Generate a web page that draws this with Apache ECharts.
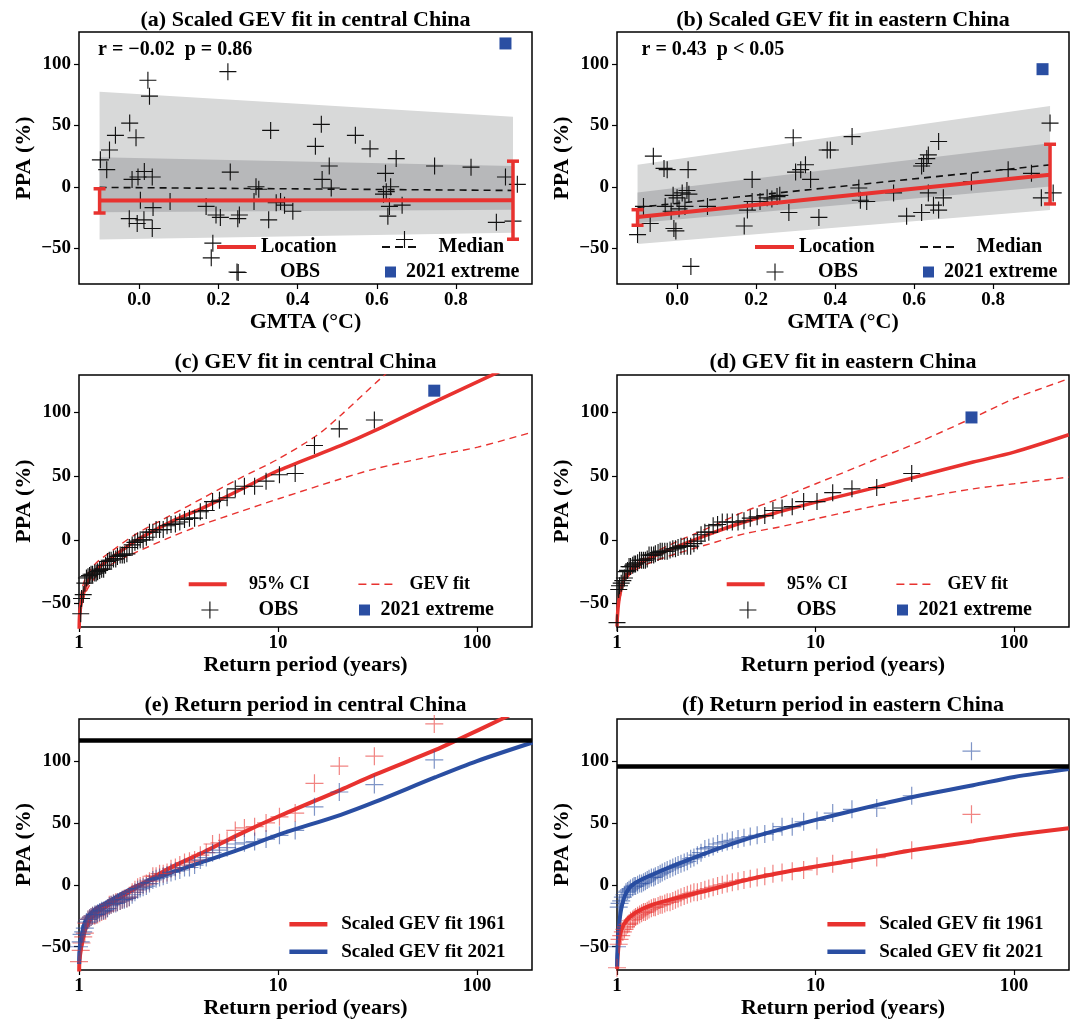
<!DOCTYPE html>
<html><head><meta charset="utf-8">
<script src="https://cdn.jsdelivr.net/npm/echarts@6/dist/echarts.min.js"></script>
<style>html,body{margin:0;padding:0;background:#fff}#chart{width:1080px;height:1023px}</style>
</head><body><div id="chart"></div>
<script>
// ================= DATA =================
// (a) central China: GMTA (°C) and PPA (%) of observed years
const GMTA_C = [-0.098,-0.082,-0.075,-0.06,-0.024,-0.008,0.022,0.026,-0.018,-0.003,0.013,0.033,0.003,0.035,-0.025,-0.005,0.012,0.033,0.078,0.224,0.23,0.169,0.194,0.205,0.186,0.182,0.25,0.253,0.249,0.295,0.302,0.29,0.327,0.332,0.346,0.367,0.388,0.46,0.445,0.48,0.462,0.485,0.546,0.583,0.622,0.649,0.624,0.635,0.617,0.632,0.628,0.664,0.67,0.746,0.838,0.925,0.902,0.944,0.955,0.357];
const PPA_C  = [22,14,30,42,52,40,87,74,6,8,12.5,8,-11,-17,-26,-30,-27,-34,-12,94,12,-16,-23,-25,-46,-58,-70,-23,-26,0,-2,-12,-27,46,-13,-15,-20,51,33,17,6,-1,42,31,11,23,-4,0,-6,-16,-24,-15,-43,17,16,8,-29,-28,2,-12];
// (b) eastern China
const GMTA_E = [-0.1,-0.085,-0.068,-0.06,-0.033,-0.025,0.028,-0.008,-0.003,-0.03,-0.01,0.0,0.005,0.013,0.02,0.025,0.03,0.035,0.077,0.19,0.17,0.178,0.19,0.21,0.228,0.24,0.26,0.253,0.283,0.294,0.313,0.325,0.338,0.359,0.38,0.388,0.443,0.46,0.464,0.48,0.548,0.581,0.619,0.624,0.632,0.619,0.636,0.662,0.636,0.649,0.662,0.674,0.745,0.838,0.897,0.922,0.944,0.952,0.30,-0.015];
const PPA_E  = [-39,-16,-30,25,15,14,14,-34,-36,-16,-7,-9,-18,-5,-16,-3,-6,-65,-16,6,-32,-19,-12,-12,-9,-10,-7,-8,-21,40,14,18,6,-25,30,30,41,-1,-11,-12,-5,-24,-21,19,23,17,26,37,-5,-15,-19,-9,4,14,11,-9,52,-5,12,-20];
const GMTA_2021 = 0.925;
const EXTREME_2021_C = 117;
const EXTREME_2021_E = 96;

// scaled GEV fits vs GMTA (endpoints of the fitted range)
const TREND_X = [-0.1, 0.944];
const C_OUTER_UP = [77.6, 57.2], C_OUTER_LO = [-43, -37.6];
const C_INNER_UP = [24.1, 17],   C_INNER_LO = [-20.8, -18.7];
const C_MEDIAN = [-0.5, -3], C_LOCATION = [-11.2, -11];
const C_ERR_LO = [-21.4, -42.8], C_ERR_HI = [-1.6, 20.9];
const E_OUTER_UP = [17.9, 65.9], E_OUTER_LO = [-46.6, -19];
const E_INNER_UP = [-4.6, 35.5], E_INNER_LO = [-29.5, 0.3];
const E_MEDIAN = [-16.8, 17.9], E_LOCATION = [-24.6, 9.8];
const E_ERR_LO = [-31.4, -14], E_ERR_HI = [-18.7, 34.7];

// return periods (years) for ranks 1..61
const RETURN_PERIOD = [61,30.5,20.33,15.25,12.2,10.17,8.71,7.63,6.78,6.1,5.55,5.08,4.69,4.36,4.07,3.81,3.59,3.39,3.21,3.05,2.9,2.77,2.65,2.54,2.44,2.35,2.26,2.18,2.1,2.03,1.97,1.91,1.85,1.79,1.74,1.69,1.65,1.61,1.56,1.53,1.49,1.45,1.42,1.39,1.36,1.33,1.3,1.27,1.24,1.22,1.2,1.17,1.15,1.13,1.11,1.09,1.07,1.05,1.03,1.02,1.0];
const RP_2021 = 61;

// (c) ranked observations, central China
const C_OBS_RANKED = [94,87,74,52,51,46,42,42,40,33,31,30,23,22,17,17,16,14,12.5,12,11,8,8,8,6,6,2,0,0,-1,-2,-4,-6,-11,-12,-12,-12,-13,-15,-15,-16,-16,-17,-20,-23,-23,-24,-25,-26,-26,-27,-27,-28,-29,-30,-34,-43,-46,-58,-70];
// (d) ranked observations, eastern China
const E_OBS_RANKED = [52,41,40,37,30,30,26,25,23,19,18,17,15,14,14,14,14,12,11,6,6,4,-1,-3,-5,-5,-5,-5,-6,-7,-7,-8,-9,-9,-9,-9,-10,-11,-12,-12,-12,-15,-16,-16,-16,-16,-18,-19,-19,-20,-21,-21,-24,-25,-30,-32,-34,-36,-39,-65];

// (c) GEV curves
const C_FIT_RP = [1.002,1.008,1.032,1.095,1.209,1.473,1.941,2.884,4.277,6.35,10.08,20.77,30.8,62,118,189];
const C_FIT    = [-70,-58,-47.6,-34.5,-24,-13.6,-0.5,13.9,25.6,38.7,54.4,74,85.8,108.6,129,144];
const C_UP_RP  = [1.005,1.024,1.074,1.209,1.473,1.941,2.884,4.277,6.35,10.08,15.7,20.77,32.7,40];
const C_UP     = [-55,-42.4,-30.6,-18.8,-8.4,4.7,19.1,33.5,47.9,63.6,82,98,126.4,138];
const C_LO_RP  = [1.01,1.024,1.074,1.209,1.473,1.941,2.884,4.277,6.35,10.08,20.77,30.8,62,100.8,189.6];
const C_LO     = [-68,-55.5,-42.4,-29.3,-18.8,-9.7,2.1,12.6,21.7,32.2,47.9,55.7,66.2,72.7,84.5];
// (d) GEV curves
const E_FIT_RP = [1.001,1.004,1.028,1.091,1.229,1.498,1.977,2.94,4.365,6.49,10.04,20.5,31.7,62.2,100,188.5];
const E_FIT    = [-68,-60.7,-45,-30.6,-21.5,-13.6,-5.8,4.7,14,21.7,29.6,41.3,49.2,61,68.8,82.4];
const E_UP_RP  = [1.028,1.091,1.229,1.498,1.977,2.94,4.365,6.49,10.04,20.5,31.7,62.2,100,188.5];
const E_UP     = [-39.8,-28,-18.8,-11,-1.8,9.9,22,32.2,44,63.6,75.4,95.8,110.7,126.4];
const E_LO_RP  = [1.028,1.091,1.229,1.498,1.977,2.94,4.365,6.49,10.04,20.5,31.7,62.2,100,188.5];
const E_LO     = [-48,-33,-24,-17.5,-11,-3.1,4.7,9.9,16.5,27,32.2,40,44,49.2];

// (e) central China, scaled to 1961 and 2021 climates
const C_1961_OBS = [130,104,96,82,58,55,50,47,46,44,36,34,33,26,24,20,19,18,16,14,13,10,9,9,7,7,3,1,0,-1,-2,-4,-6,-10,-11,-11,-12,-13,-14,-14,-15,-16,-16,-19,-21,-21,-22,-23,-24,-24,-25,-25,-26,-27,-28,-31,-39,-42,-47,-53,-62];
const C_2021_OBS = [101,81,75,63,44,40,37,35,34,33,30,28,26,22,20,16,14,14,12,11,10,8,7,6,5,4,1,-1,-2,-3,-4,-6,-8,-10,-11,-12,-12,-13,-14,-15,-15,-16,-17,-19,-20,-21,-21,-22,-23,-24,-24,-25,-26,-27,-28,-30,-35,-38,-40,-46,-50];
const C_1961_RP  = [1.002,1.004,1.028,1.082,1.195,1.457,1.921,2.856,4.243,6.304,10.02,20.68,30.73,61.9,79.5,133,189];
const C_1961_FIT = [-70,-63,-49.8,-35,-24.2,-14.8,-2.7,13.5,26.5,40.4,55.2,76.8,89,109,117,134,146];
const C_2021_RP  = [1.002,1.004,1.028,1.082,1.195,1.457,1.921,2.856,4.243,6.304,10.02,20.68,30.73,61.9,100,190];
const C_2021_FIT = [-64,-55,-41.7,-28.3,-20.2,-12.1,-1.3,9.5,18.9,28.3,40.4,56.6,67,87,100,115];
// (f) eastern China
const E_1961_OBS = [57,28,22,20,17,15,12,11,10,9,7,6,5,4,3,2,1,0,-1,-2,-3,-4,-5,-6,-6,-7,-8,-9,-10,-11,-12,-13,-14,-14,-15,-16,-16,-17,-18,-18,-19,-20,-21,-22,-22,-23,-24,-25,-26,-27,-28,-29,-31,-32,-34,-36,-38,-41,-44,-48,-67];
const E_2021_OBS = [108,72,62,61,58,52,51,47,47,43,41,40,39,38,37,36,35,34,33,31,30,29,26,24,22,21,19,18,17,16,15,14,13,12,11,10,9,8,7,6,6,5,4,3,2,1,1,0,-1,-1,-2,-3,-4,-5,-6,-8,-10,-13,-15,-18,-50];
const E_1961_RP  = [1.002,1.008,1.032,1.091,1.229,1.498,1.977,2.94,4.365,6.49,10.04,20.5,31.7,62.2,100,188.5];
const E_1961_FIT = [-68,-58,-41.7,-31,-22.9,-16.2,-10.8,-4,3.5,9.4,14.8,23,28.3,35.3,40.2,45.8];
const E_2021_RP  = [1.001,1.004,1.016,1.048,1.11,1.229,1.498,1.977,2.94,4.365,6.49,10.04,20.5,31.7,62.2,100,188.5];
const E_2021_FIT = [-66,-55,-39,-20.2,-6.7,1.3,8.1,16.2,26.9,36.4,44.4,52.5,64.6,71.4,80.5,87.2,93.5];

// tick labels
const GMTA_TICKS = [0, 0.2, 0.4, 0.6, 0.8];
const PPA_TICKS = [-50, 0, 50, 100];
const RP_TICKS = [1, 10, 100];

// ================= STYLE / LAYOUT =================
const FONT = "'Liberation Serif','Times New Roman',serif";
const RED = '#e8322f', BLUE = '#2a4ea2', BLACK = '#111';
const RED_A = 'rgba(232,50,47,0.6)', BLUE_A = 'rgba(42,78,162,0.6)';
const PLUS = 'path://M8.4,0H9.6V18H8.4Z M0,8.4H18V9.6H0Z';
const GRIDS = [
  {left:79, top:32, width:453, height:252},
  {left:617, top:32, width:452, height:252},
  {left:79, top:375, width:453, height:252},
  {left:617, top:375, width:452, height:252},
  {left:79, top:719, width:453, height:251},
  {left:617, top:719, width:452, height:251}
];
const YRANGE = [[-79.35,126.35],[-79.35,126.35],[-68.4,129.3],[-68.4,129.3],[-68.8,134],[-68.8,134]];
const zip = (xs, ys) => xs.map((x, i) => [x, ys[i]]);
const minusFmt = v => (v < 0 ? '\u2212' + (-v) : String(v));

const labelStyle = {color:'#000', fontFamily:FONT, fontWeight:'bold', fontSize:19};
const nameStyle = {color:'#000', fontFamily:FONT, fontWeight:'bold', fontSize:22};
const tickStyle = {show:true, inside:false, length:5, lineStyle:{color:'#000', width:1.2}};

const xAxes = GRIDS.map((g, i) => {
  const base = {gridIndex:i, axisLine:{show:false, onZero:false}, splitLine:{show:false},
    nameLocation:'middle', nameGap:27, nameTextStyle:nameStyle};
  if (i < 2) {
    return Object.assign(base, {type:'value', min:-0.152, max:0.992, name:'GMTA (\u00B0C)',
      axisTick:Object.assign({customValues:GMTA_TICKS}, tickStyle),
      axisLabel:Object.assign({customValues:GMTA_TICKS, margin:7, formatter:v => v.toFixed(1)}, labelStyle)});
  }
  return Object.assign(base, {type:'log', logBase:10, min:1, max:189, name:'Return period (years)',
    minorTick:{show:false},
    axisTick:Object.assign({customValues:RP_TICKS}, tickStyle),
    axisLabel:Object.assign({customValues:RP_TICKS, margin:7,
      formatter:v => String(Math.round(v))}, labelStyle)});
});
const yAxes = GRIDS.map((g, i) => ({
  gridIndex:i, type:'value', min:YRANGE[i][0], max:YRANGE[i][1],
  axisLine:{show:false, onZero:false}, splitLine:{show:false},
  axisTick:Object.assign({customValues:PPA_TICKS}, tickStyle),
  axisLabel:Object.assign({customValues:PPA_TICKS, margin:8, formatter:minusFmt}, labelStyle),
  name:'PPA (%)', nameLocation:'middle', nameGap:44, nameRotate:90, nameTextStyle:nameStyle
}));

function band(ai, xs, lo, hi, color) {
  return {type:'custom', xAxisIndex:ai, yAxisIndex:ai, silent:true, z:1,
    data: xs.map((x, i) => [x, lo[i], hi[i]]),
    renderItem: (params, api) => {
      const i = params.dataIndex;
      if (i >= xs.length - 1) return null;
      const pts = [api.coord([xs[i], hi[i]]), api.coord([xs[i+1], hi[i+1]]),
                   api.coord([xs[i+1], lo[i+1]]), api.coord([xs[i], lo[i]])];
      return {type:'polygon', shape:{points:pts}, style:{fill:color}};
    }};
}
function errbar(ai, xs, lo, hi) {
  return {type:'custom', xAxisIndex:ai, yAxisIndex:ai, silent:true, z:6,
    data: xs.map((x, i) => [x, lo[i], hi[i]]),
    renderItem: (params, api) => {
      const a = api.coord([api.value(0), api.value(1)]);
      const b = api.coord([api.value(0), api.value(2)]);
      const w = 6, st = {stroke:RED, lineWidth:3.5};
      return {type:'group', children:[
        {type:'line', shape:{x1:a[0], y1:a[1], x2:b[0], y2:b[1]}, style:st},
        {type:'line', shape:{x1:a[0]-w, y1:a[1], x2:a[0]+w, y2:a[1]}, style:st},
        {type:'line', shape:{x1:b[0]-w, y1:b[1], x2:b[0]+w, y2:b[1]}, style:st}
      ]};
    }};
}
function line(ai, name, data, color, width, dash, z, extra) {
  return Object.assign({type:'line', name, xAxisIndex:ai, yAxisIndex:ai, data, symbol:'none',
    smooth:0.3, silent:true, z, color, itemStyle:{color},
    lineStyle:{color, width, type:dash || 'solid'}}, extra || {});
}
function pts(ai, name, data, symbol, size, color, z) {
  return {type:'scatter', name, xAxisIndex:ai, yAxisIndex:ai, data, symbol, symbolSize:size,
    silent:true, z, itemStyle:{color, opacity:1}};
}

const series = [];
// panels (a) and (b)
[[0, GMTA_C, PPA_C, C_OUTER_LO, C_OUTER_UP, C_INNER_LO, C_INNER_UP, C_MEDIAN, C_LOCATION, C_ERR_LO, C_ERR_HI, EXTREME_2021_C],
 [1, GMTA_E, PPA_E, E_OUTER_LO, E_OUTER_UP, E_INNER_LO, E_INNER_UP, E_MEDIAN, E_LOCATION, E_ERR_LO, E_ERR_HI, EXTREME_2021_E]
].forEach(([ai, gx, py, olo, oup, ilo, iup, med, loc, elo, ehi, ext]) => {
  series.push(band(ai, TREND_X, olo, oup, '#d8d9d9'));
  series.push(band(ai, TREND_X, ilo, iup, '#b7b8ba'));
  series.push(pts(ai, 'OBS', zip(gx, py), PLUS, 17, BLACK, 3));
  series.push(line(ai, 'Median', zip(TREND_X, med), BLACK, 1.6, [7, 5], 4, {smooth:false}));
  series.push(line(ai, 'Location', zip(TREND_X, loc), RED, 4, 'solid', 5, {smooth:false}));
  series.push(errbar(ai, TREND_X, elo, ehi));
  series.push(pts(ai, '2021 extreme', [[GMTA_2021, ext]], 'rect', 12, BLUE, 7));
});
// panels (c) and (d)
[[2, C_FIT_RP, C_FIT, C_UP_RP, C_UP, C_LO_RP, C_LO, C_OBS_RANKED, EXTREME_2021_C],
 [3, E_FIT_RP, E_FIT, E_UP_RP, E_UP, E_LO_RP, E_LO, E_OBS_RANKED, EXTREME_2021_E]
].forEach(([ai, frp, fit, urp, up, lrp, lo, obs, ext]) => {
  series.push(line(ai, '95% CI', zip(frp, fit), RED, 3.5, 'solid', 3));
  series.push(line(ai, 'GEV fit', zip(urp, up), RED, 1.4, [7, 5], 3));
  series.push(line(ai, 'GEV fit', zip(lrp, lo), RED, 1.4, [7, 5], 3));
  series.push(pts(ai, 'OBS', zip(RETURN_PERIOD.slice(1), obs), PLUS, 17, BLACK, 4));
  series.push(pts(ai, '2021 extreme', [[RP_2021, ext]], 'rect', 12, BLUE, 5));
});
// panels (e) and (f)
[[4, C_1961_RP, C_1961_FIT, C_2021_RP, C_2021_FIT, C_1961_OBS, C_2021_OBS, EXTREME_2021_C],
 [5, E_1961_RP, E_1961_FIT, E_2021_RP, E_2021_FIT, E_1961_OBS, E_2021_OBS, EXTREME_2021_E]
].forEach(([ai, rp1, f1, rp2, f2, o1, o2, ext]) => {
  series.push(line(ai, 'Scaled GEV fit 1961', zip(rp1, f1), RED, 4, 'solid', 3, {
    markLine:{silent:true, symbol:'none', label:{show:false}, animation:false,
      lineStyle:{color:'#000', width:4.5, type:'solid'}, data:[{yAxis:ext}]}}));
  series.push(line(ai, 'Scaled GEV fit 2021', zip(rp2, f2), BLUE, 4, 'solid', 3));
  series.push(pts(ai, 'scaled obs 1961', zip(RETURN_PERIOD, o1), PLUS, 18, RED_A, 4));
  series.push(pts(ai, 'scaled obs 2021', zip(RETURN_PERIOD, o2), PLUS, 18, BLUE_A, 4));
});

// legends (one component per key, placed like the reference)
const ICON_LOC = 'path://M0,0H39V4H0Z';
const ICON_DASH_K = 'path://M0,0H8V2H0Z M13,0H21V2H13Z M26,0H34V2H26Z';
const ICON_DASH_R = 'path://M0,0H8V1.5H0Z M13,0H21V1.5H13Z M26,0H34V1.5H26Z';
const ICON_FIT = 'path://M0,0H38V4H0Z';
const ICON_SCALED = 'path://M0,0H38V4.5H0Z';
function leg(name, icon, w, h, left, cy, fs, pad) {
  const lh = Math.max(h, fs);
  return {data:[{name, icon}], left, top:cy - lh / 2, itemWidth:w, itemHeight:h, padding:0,
    itemGap:0, selectedMode:false, itemStyle:{borderWidth:0}, lineStyle:{width:0},
    textStyle:{fontFamily:FONT, fontWeight:'bold', fontSize:fs, color:'#000', lineHeight:fs, padding:[0,0,0,pad]}};
}
const legends = [];
[0, 538].forEach(dx => {
  legends.push(leg('Location', ICON_LOC, 39, 4, 217 + dx, 247, 20, 0));
  legends.push(leg('Median', ICON_DASH_K, 34, 2, 382 + dx, 247, 20, 17.6));
  legends.push(leg('OBS', PLUS, 17, 17, 228.5 + dx, 272, 20, 29.5));
  legends.push(leg('2021 extreme', 'rect', 11, 11, 385 + dx, 272, 20, 5));
  legends.push(leg('95% CI', ICON_FIT, 38, 4, 188.7 + dx, 584.3, 18, 17.3));
  legends.push(leg('GEV fit', ICON_DASH_R, 34, 1.5, 358.4 + dx, 584.3, 18, 12.2));
  legends.push(leg('OBS', PLUS, 17, 17, 201.4 + dx, 610, 20, 35));
  legends.push(leg('2021 extreme', 'rect', 11, 11, 359 + dx, 610, 20, 5.5));
  legends.push(leg('Scaled GEV fit 1961', ICON_SCALED, 38, 4.5, 289.4 + dx, 924.3, 19, 8.9));
  legends.push(leg('Scaled GEV fit 2021', ICON_SCALED, 38, 4.5, 289.4 + dx, 951.7, 19, 8.9));
});

// titles and annotations
const TITLES = [
  ['(a) Scaled GEV fit in central China', 305.5, 20],
  ['(b) Scaled GEV fit in eastern China', 843, 20],
  ['(c) GEV fit in central China', 305.5, 362],
  ['(d) GEV fit in eastern China', 843, 362],
  ['(e) Return period in central China', 305.5, 705],
  ['(f) Return period in eastern China', 843, 705]
];
const NOTES = [['r = \u22120.02  p = 0.86', 98, 50], ['r = 0.43  p < 0.05', 641.5, 50]];
const graphic = TITLES.map(([t, x, y]) => ({type:'text', x, y, silent:true,
    style:{text:t, align:'center', verticalAlign:'middle', fill:'#000', font:"bold 22px " + FONT}}))
  .concat(NOTES.map(([t, x, y]) => ({type:'text', x, y, silent:true,
    style:{text:t, align:'left', verticalAlign:'middle', fill:'#000', font:"bold 20px " + FONT}})));

const chart = echarts.init(document.getElementById('chart'), null, {renderer:'canvas'});
chart.setOption({
  backgroundColor:'#fff',
  animation:false,
  grid: GRIDS.map(g => Object.assign({show:true, borderColor:'#000', borderWidth:1.5,
    backgroundColor:'transparent', containLabel:false, outerBoundsMode:'none'}, g)),
  xAxis: xAxes,
  yAxis: yAxes,
  legend: legends,
  series,
  graphic
});
</script></body></html>
